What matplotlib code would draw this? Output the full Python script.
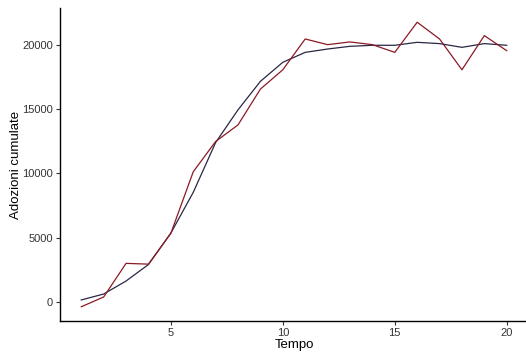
import matplotlib
matplotlib.use("Agg")
import matplotlib.pyplot as plt

tempo = list(range(1, 21))
osservate = [-350, 410, 3020, 2960, 5350, 10130, 12480, 13770, 16550, 18050,
             20440, 20000, 20210, 20000, 19400, 21740, 20440, 18050, 20700, 19530]
stimate = [180, 640, 1650, 2930, 5370, 8530, 12400, 14940, 17150, 18630,
           19400, 19660, 19870, 19950, 19950, 20180, 20080, 19790, 20080, 19950]
xticks = [5, 10, 15, 20]
yticks = [0, 5000, 10000, 15000, 20000]

plt.rcParams['font.family'] = ['Liberation Sans', 'DejaVu Sans']
W, H = 526, 353
fig = plt.figure(figsize=(W/100, H/100), dpi=100)
ax = fig.add_axes([60/W, (H-321)/H, (528-60)/W, (321-8)/H])

ax.plot(tempo, stimate, color='#2a2745', lw=0.9)
ax.plot(tempo, osservate, color='#8b1a24', lw=0.9)

D = max(max(osservate), max(stimate)) - min(min(osservate), min(stimate))
lo = min(min(osservate), min(stimate)); hi = max(max(osservate), max(stimate))
ax.set_ylim(lo - 0.05*D, hi + 0.05*D)
ax.set_xlim(1 - 0.05*19, 20 + 0.05*19)
ax.set_xticks(xticks)
ax.set_yticks(yticks)
ax.set_xticklabels([str(t) for t in xticks])
ax.set_yticklabels([str(t) for t in yticks])
for s in ['top', 'right']:
    ax.spines[s].set_visible(False)
for s in ['left', 'bottom']:
    ax.spines[s].set_linewidth(1.0)
    ax.spines[s].set_color('black')
ax.tick_params(axis='both', length=3, width=0.8, color='#333333', labelcolor='#333333',
               labelsize=8, pad=2)
ax.set_xlabel('Tempo', fontsize=9.5, labelpad=1)
ax.set_ylabel('Adozioni cumulate', fontsize=9.5, labelpad=0.5)

fig.savefig('out.png', dpi=100)
